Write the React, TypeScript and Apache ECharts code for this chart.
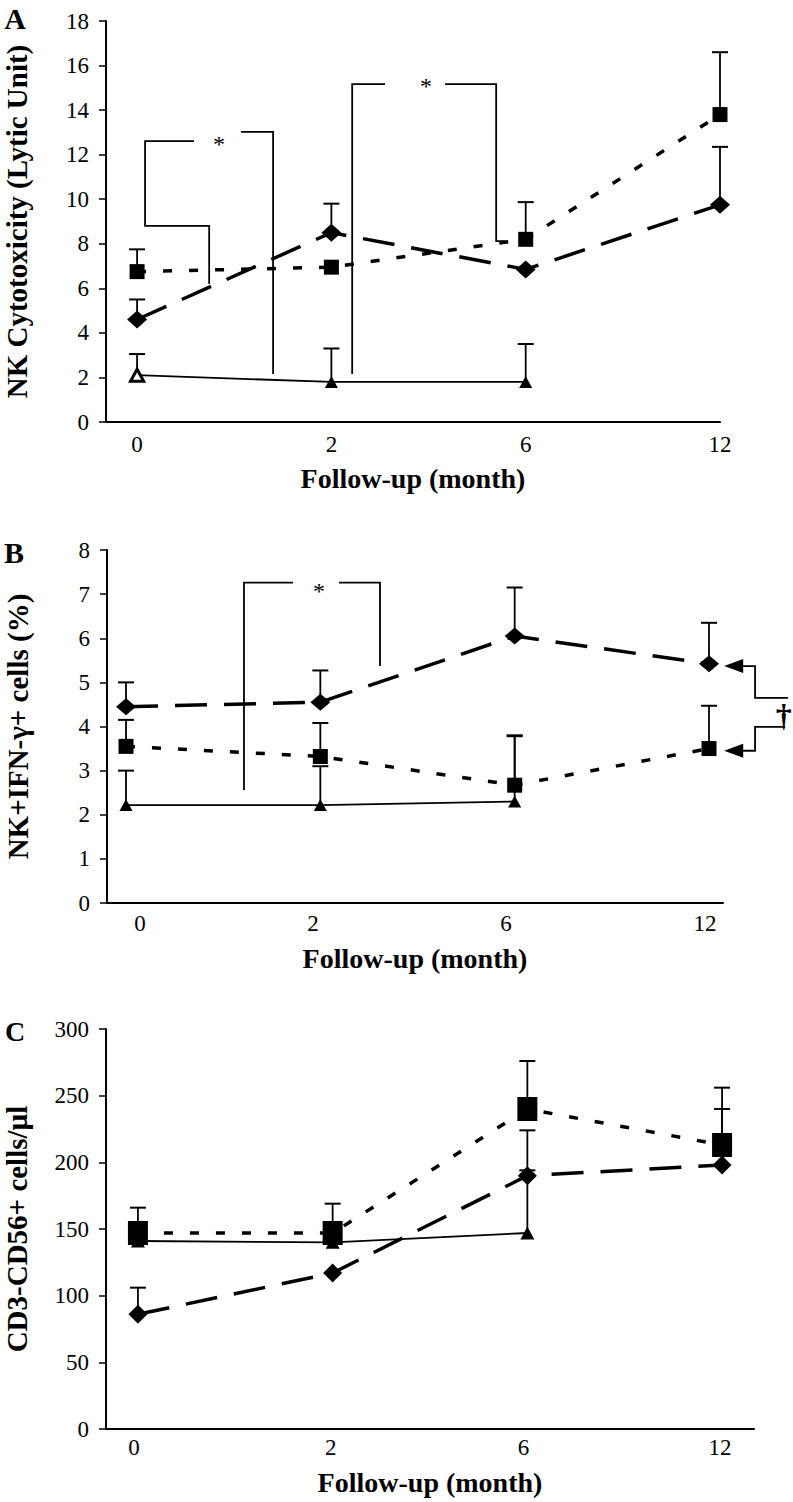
import React, { useEffect, useRef } from "react";
import * as echarts from "echarts";

// ---------- data ----------
const xLabels = ["0", "2", "6", "12"];

// Panel A: NK cytotoxicity (lytic unit)
const aDiamond = [4.6, 8.5, 6.85, 9.75];
const aDiamondErr = [5.5, 9.8, null, 12.35];
const aSquare = [6.75, 6.95, 8.2, 13.8];
const aSquareErr = [7.75, null, 9.87, 16.6];
const aTriangle = [2.1, 1.8, 1.8];
const aTriangleErr = [3.05, 3.3, 3.5];

// Panel B: NK+IFN-γ+ cells (%)
const bDiamond = [4.45, 4.55, 6.05, 5.42];
const bDiamondErr = [5.0, 5.27, 7.15, 6.35];
const bSquare = [3.55, 3.32, 2.67, 3.5];
const bSquareErr = [4.15, 4.08, 3.8, 4.47];
const bTriangle = [2.22, 2.22, 2.3];
const bTriangleErr = [3.0, 3.1, 3.78];

// Panel C: CD3-CD56+ cells/µl
const cDiamond = [86, 117, 190, 198];
const cDiamondErr = [106, null, 224, 240];
const cSquare = [147, 147, 240, 213];
const cSquareErr = [166, 169, 276, 256];
const cTriangle = [141, 140, 147];
const cTriangleErr = [null, null, 194];

// significance brackets (data coordinates: x = category index, y = axis value)
const aBrackets = [
  [[0.371, 6.19], [0.371, 8.8], [0.041, 8.8], [0.041, 12.61], [0.293, 12.61]],
  [[0.535, 13.02], [0.7, 13.02], [0.7, 2.15]],
  [[1.107, 2.15], [1.107, 15.17], [1.276, 15.17]],
  [[1.585, 15.17], [1.848, 15.17], [1.848, 8.12], [1.894, 8.12]],
];
const aStars = [[0.422, 12.7], [1.487, 15.3]];

const bBrackets = [
  [[0.607, 2.56], [0.607, 7.26], [0.859, 7.26]],
  [[1.096, 7.26], [1.307, 7.26], [1.307, 5.37]],
  [[3.175, 5.37], [3.237, 5.37], [3.237, 4.65], [3.407, 4.65]],
  [[3.175, 3.45], [3.237, 3.45], [3.237, 3.99], [3.392, 3.99]],
];
const bStars = [[0.993, 7.19]];
const bArrowTips = [[3.078, 5.37], [3.078, 3.45]];
const bDaggers = [[3.385, 4.25]];

const cBrackets: number[][][] = [];
const cStars: number[][] = [];

// ---------- styling ----------
const FONT = "'Liberation Serif', 'Times New Roman', serif";
const BLACK = "#000";

function toPairs(vals: (number | null)[]) {
  return vals.map((v, i) => [i, v]).filter((p) => p[1] !== null);
}

function errSeries(gi: number, vals: (number | null)[], errs: (number | null)[]) {
  const data: number[][] = [];
  vals.forEach((v, i) => {
    const e = errs[i];
    if (v !== null && e !== null && e !== undefined) data.push([i, v as number, e as number]);
  });
  return {
    type: "custom",
    xAxisIndex: gi,
    yAxisIndex: gi,
    z: 1,
    silent: true,
    encode: { x: 0, y: [1, 2] },
    data,
    renderItem: (params: any, api: any) => {
      const p0 = api.coord([api.value(0), api.value(1)]);
      const p1 = api.coord([api.value(0), api.value(2)]);
      return {
        type: "group",
        children: [
          { type: "line", shape: { x1: p0[0], y1: p0[1], x2: p1[0], y2: p1[1] }, style: { stroke: BLACK, lineWidth: 1.8 } },
          { type: "line", shape: { x1: p1[0] - 8, y1: p1[1], x2: p1[0] + 8, y2: p1[1] }, style: { stroke: BLACK, lineWidth: 2 } },
        ],
      };
    },
  };
}

function annotSeries(gi: number, brackets: number[][][], stars: number[][], tips: number[][] = [], daggers: number[][] = []) {
  return {
    type: "custom",
    xAxisIndex: gi,
    yAxisIndex: gi,
    z: 5,
    silent: true,
    clip: false,
    data: [[0, 0]],
    renderItem: (params: any, api: any) => {
      const children: any[] = [];
      brackets.forEach((pts) => {
        children.push({
          type: "polyline",
          shape: { points: pts.map((p) => api.coord(p)) },
          style: { stroke: BLACK, lineWidth: 1.8, fill: null },
        });
      });
      stars.forEach((s) => {
        const c = api.coord(s);
        children.push({
          type: "text",
          x: c[0],
          y: c[1] + 5,
          style: { text: "*", font: `24px ${FONT}`, fill: BLACK, align: "center", verticalAlign: "middle" },
        });
      });
      tips.forEach((t) => {
        const c = api.coord(t);
        children.push({
          type: "polygon",
          shape: { points: [[c[0], c[1]], [c[0] + 19, c[1] - 7], [c[0] + 19, c[1] + 7]] },
          style: { fill: BLACK },
        });
      });
      daggers.forEach((d) => {
        const c = api.coord(d);
        children.push({
          type: "text",
          x: c[0],
          y: c[1],
          style: { text: "†", font: `bold 32px ${FONT}`, fill: BLACK, align: "center", verticalAlign: "middle" },
        });
      });
      return { type: "group", children };
    },
  };
}

function lineSeries(gi: number, vals: (number | null)[], kind: string, size: any, firstHollow = false) {
  const lineType =
    kind === "diamond" ? [32, 17] : kind === "square" ? [9, 17] : "solid";
  const width = kind === "triangle" ? 1.8 : 3.5;
  const symbol = kind === "diamond" ? "diamond" : kind === "square" ? "rect" : "triangle";
  const data: any[] = toPairs(vals).map((p, i) =>
    firstHollow && i === 0
      ? { value: p, itemStyle: { color: "#fff", borderColor: BLACK, borderWidth: 3 } }
      : p
  );
  return {
    type: "line",
    xAxisIndex: gi,
    yAxisIndex: gi,
    z: 3,
    silent: true,
    data,
    symbol,
    symbolSize: size,
    showSymbol: true,
    lineStyle: { color: BLACK, width, type: lineType },
    itemStyle: { color: BLACK },
  };
}

function makeXAxis(gi: number, min: number, max: number, labelPos: number[], margin: number, nameGap: number) {
  return {
    type: "value",
    gridIndex: gi,
    min,
    max,
    name: "Follow-up (month)",
    nameLocation: "middle",
    nameGap,
    nameTextStyle: { fontFamily: FONT, fontWeight: "bold", fontSize: 28, color: BLACK },
    axisLine: { show: true, onZero: false, lineStyle: { color: BLACK, width: 2 } },
    axisTick: { show: false },
    splitLine: { show: false },
    axisLabel: {
      customValues: labelPos,
      margin,
      fontFamily: FONT,
      fontSize: 23,
      color: BLACK,
      formatter: (v: number) => xLabels[Math.round(v)] ?? "",
    },
  };
}

function makeYAxis(gi: number, max: number, interval: number, name: string, nameGap: number) {
  return {
    type: "value",
    gridIndex: gi,
    min: 0,
    max,
    interval,
    name,
    nameLocation: "middle",
    nameGap,
    nameRotate: 90,
    nameTextStyle: { fontFamily: FONT, fontWeight: "bold", fontSize: 29, color: BLACK },
    axisLine: { show: true, onZero: false, lineStyle: { color: BLACK, width: 2 } },
    axisTick: { show: true, inside: false, length: 7, lineStyle: { color: BLACK, width: 1.5 } },
    splitLine: { show: false },
    axisLabel: { margin: 17, fontFamily: FONT, fontSize: 23, color: BLACK },
  };
}

export default function App() {
  const ref = useRef<HTMLDivElement>(null);

  useEffect(() => {
    document.body.style.margin = "0";
    if (!ref.current) return;
    const chart = echarts.init(ref.current, null, { renderer: "svg" });
    const option: any = {
      animation: false,
      backgroundColor: "#fff",
      grid: [
        { left: 106, top: 21, width: 614, height: 401, containLabel: false, outerBoundsMode: "none" },
        { left: 107, top: 550, width: 616, height: 353, containLabel: false, outerBoundsMode: "none" },
        { left: 106, top: 1029, width: 648, height: 400, containLabel: false, outerBoundsMode: "none" },
      ],
      xAxis: [
        makeXAxis(0, -0.16, 3.0, [0, 1, 2, 3], 11, 42),
        makeXAxis(1, -0.0978, 3.072, [0.072, 0.962, 1.956, 2.98], 9, 41),
        makeXAxis(2, -0.164, 3.164, [-0.02, 0.99, 1.98, 2.99], 7, 39),
      ],
      yAxis: [
        makeYAxis(0, 18, 2, "NK Cytotoxicity (Lytic Unit)", 75),
        makeYAxis(1, 8, 1, "NK+IFN-γ+ cells (%)", 75),
        makeYAxis(2, 300, 50, "CD3-CD56+ cells/µl", 75),
      ],
      graphic: [
        { type: "text", x: 15, y: 18, style: { text: "A", font: `bold 30px ${FONT}`, fill: BLACK, align: "center", verticalAlign: "middle" } },
        { type: "text", x: 14, y: 552, style: { text: "B", font: `bold 30px ${FONT}`, fill: BLACK, align: "center", verticalAlign: "middle" } },
        { type: "text", x: 15, y: 1031, style: { text: "C", font: `bold 28px ${FONT}`, fill: BLACK, align: "center", verticalAlign: "middle" } },
      ],
      series: [
        // Panel A
        errSeries(0, aDiamond, aDiamondErr),
        errSeries(0, aSquare, aSquareErr),
        errSeries(0, aTriangle, aTriangleErr),
        lineSeries(0, aTriangle, "triangle", [13, 12], true),
        lineSeries(0, aSquare, "square", [15, 15]),
        lineSeries(0, aDiamond, "diamond", [20, 18]),
        annotSeries(0, aBrackets, aStars),
        // Panel B
        errSeries(1, bDiamond, bDiamondErr),
        errSeries(1, bSquare, bSquareErr),
        errSeries(1, bTriangle, bTriangleErr),
        lineSeries(1, bTriangle, "triangle", [13, 12]),
        lineSeries(1, bSquare, "square", [15, 15]),
        lineSeries(1, bDiamond, "diamond", [20, 17]),
        annotSeries(1, bBrackets, bStars, bArrowTips, bDaggers),
        // Panel C
        errSeries(2, cDiamond, cDiamondErr),
        errSeries(2, cSquare, cSquareErr),
        errSeries(2, cTriangle, cTriangleErr),
        lineSeries(2, cTriangle, "triangle", [14, 13]),
        lineSeries(2, cSquare, "square", [20, 24]),
        lineSeries(2, cDiamond, "diamond", [19, 19]),
        annotSeries(2, cBrackets, cStars),
      ],
    };
    chart.setOption(option);
    return () => chart.dispose();
  }, []);

  return <div ref={ref} style={{ width: 793, height: 1502 }} />;
}
